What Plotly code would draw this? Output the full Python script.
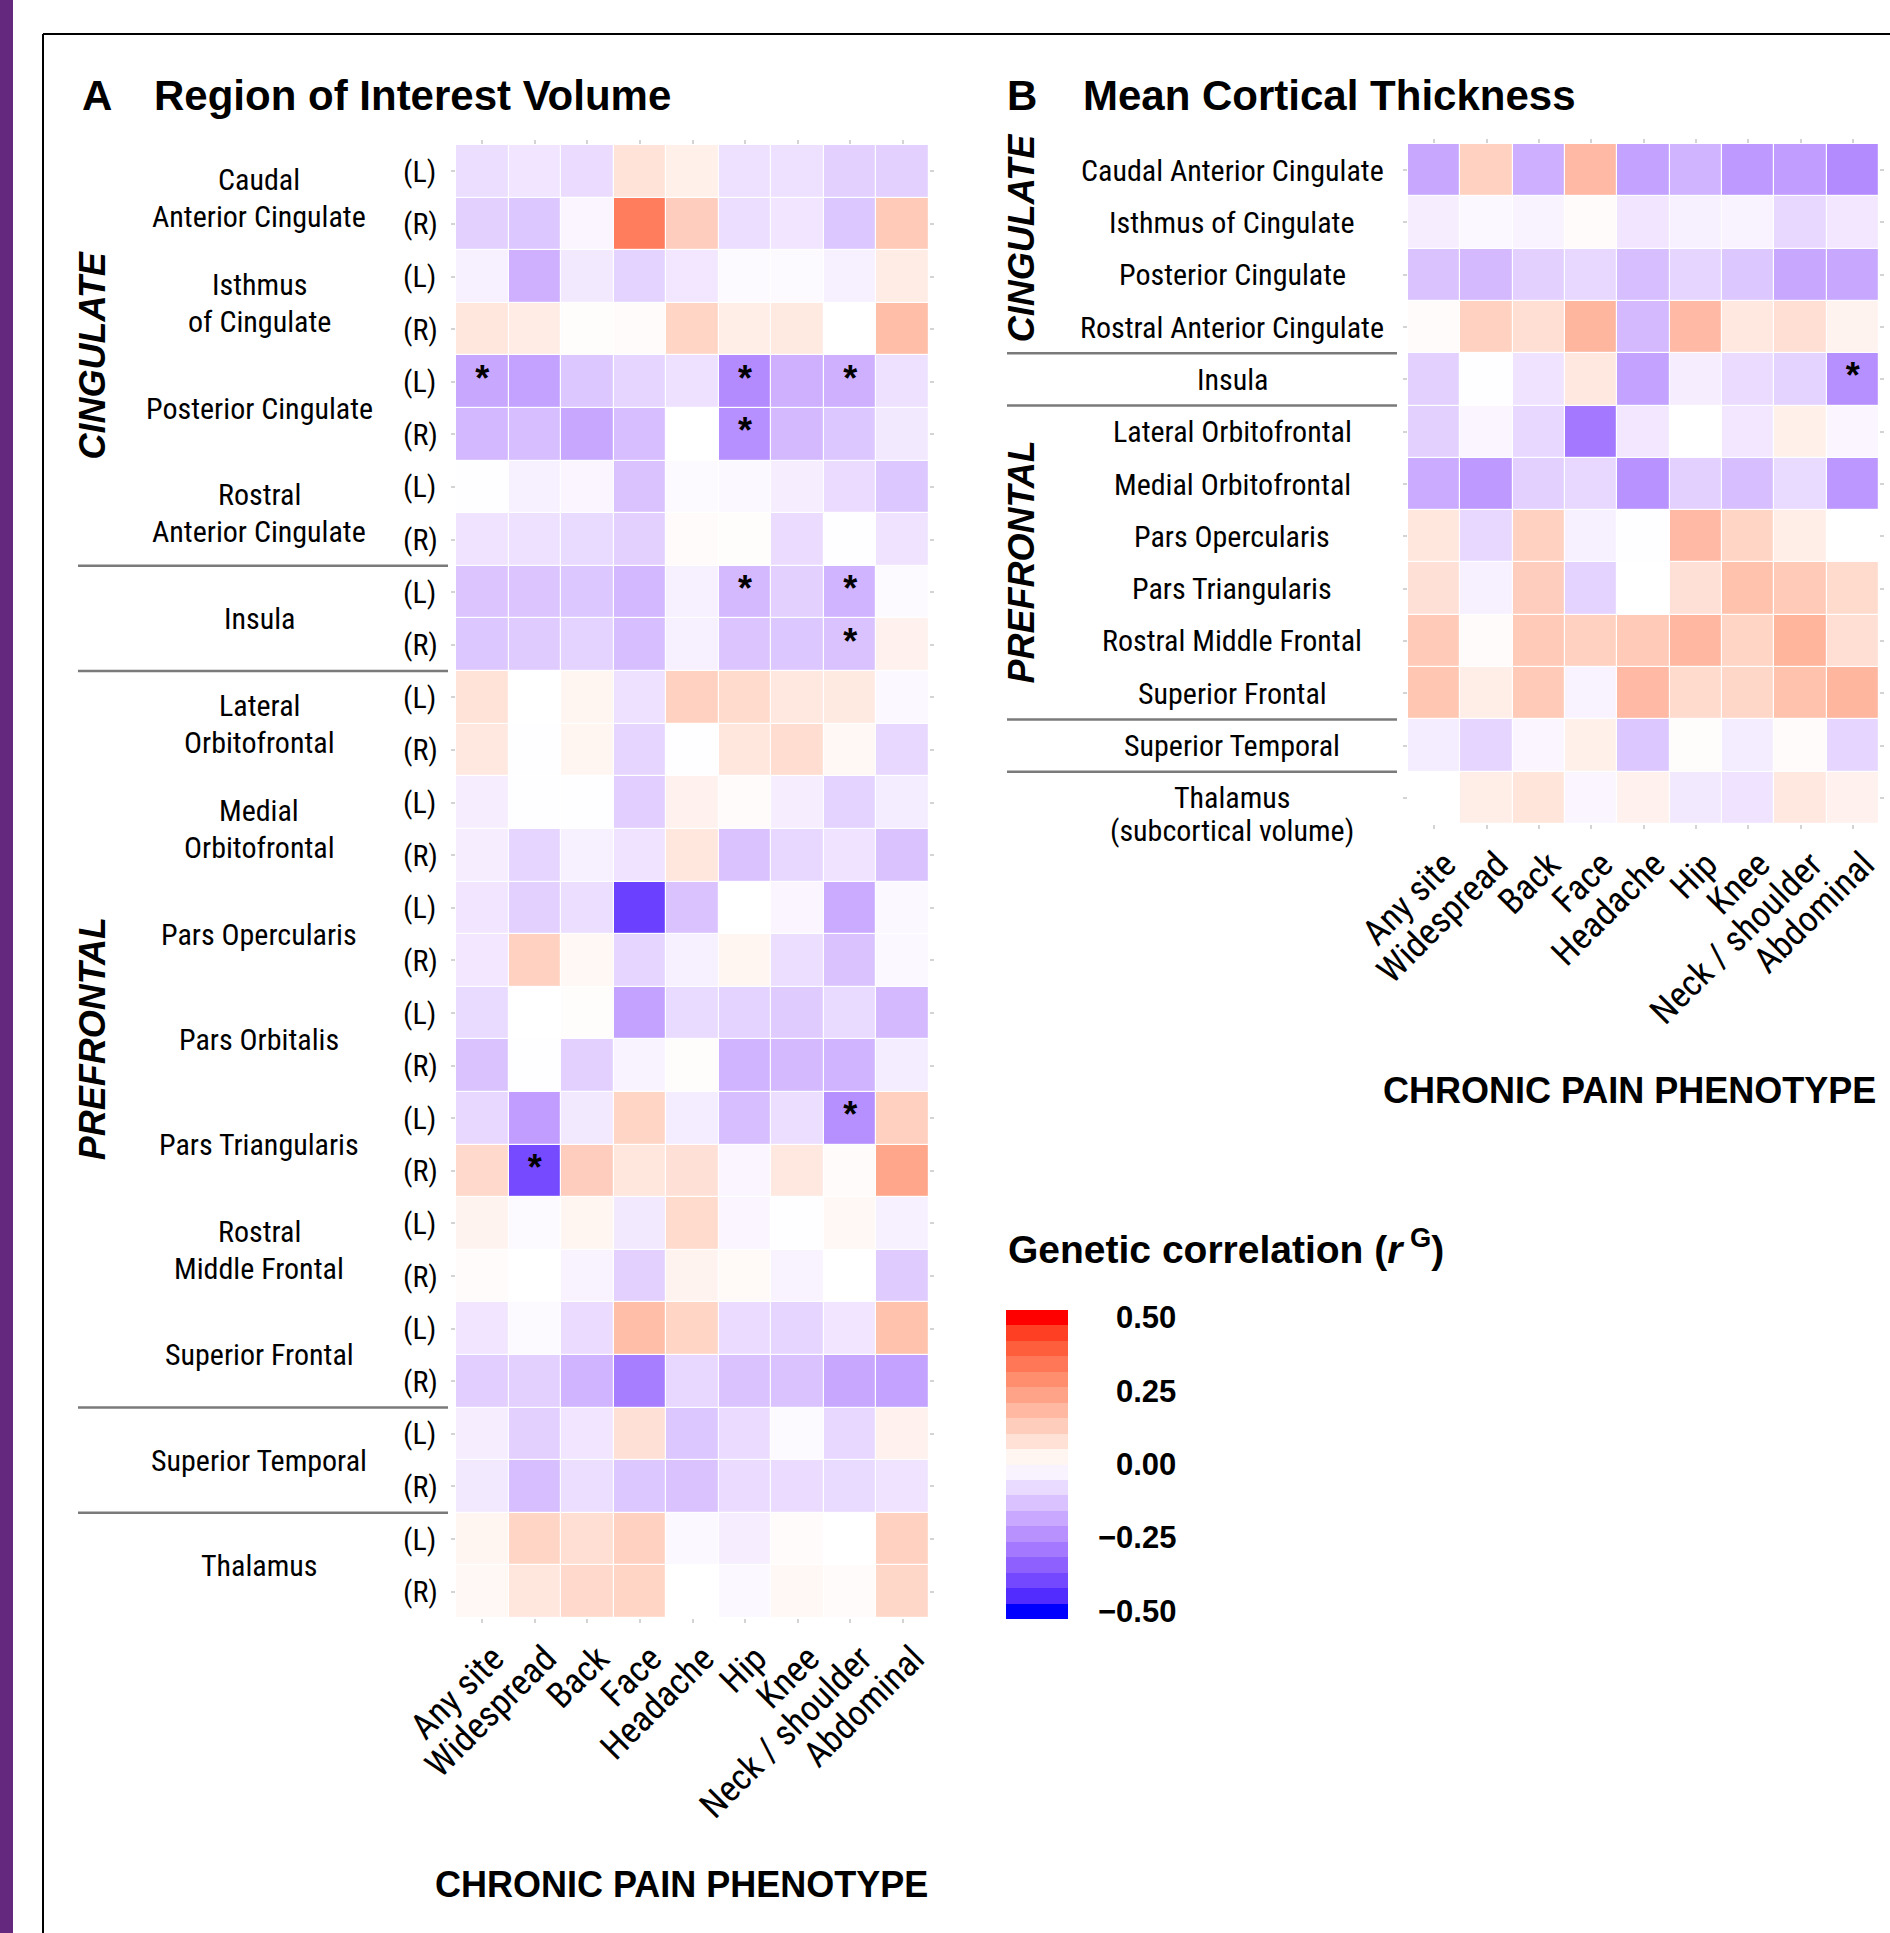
import plotly.graph_objects as go

# ---------------- data ----------------
phenotypes = ["Any site", "Widespread", "Back", "Face", "Headache", "Hip", "Knee",
              "Neck / shoulder", "Abdominal"]

roi_regions = ["Caudal<br>Anterior Cingulate", "Isthmus<br>of Cingulate", "Posterior Cingulate",
               "Rostral<br>Anterior Cingulate", "Insula", "Lateral<br>Orbitofrontal",
               "Medial<br>Orbitofrontal", "Pars Opercularis", "Pars Orbitalis",
               "Pars Triangularis", "Rostral<br>Middle Frontal", "Superior Frontal",
               "Superior Temporal", "Thalamus"]
hemispheres = ["(L)", "(R)"]

# rows: each region (L) then (R); columns follow phenotypes
roi_volume_rg = [
    [-0.07, -0.055, -0.075, 0.075, 0.04, -0.065, -0.065, -0.10, -0.10],
    [-0.10, -0.12, -0.02, 0.33, 0.13, -0.07, -0.055, -0.12, 0.14],
    [-0.03, -0.17, -0.045, -0.095, -0.05, -0.01, -0.01, -0.03, 0.05],
    [0.065, 0.05, 0.005, 0.01, 0.11, 0.045, 0.055, 0.0, 0.17],
    [-0.19, -0.20, -0.12, -0.09, -0.065, -0.25, -0.17, -0.17, -0.065],
    [-0.155, -0.14, -0.19, -0.14, 0.0, -0.24, -0.15, -0.12, -0.045],
    [-0.005, -0.03, -0.02, -0.13, -0.01, -0.015, -0.035, -0.075, -0.12],
    [-0.06, -0.065, -0.08, -0.10, 0.01, 0.005, -0.075, -0.005, -0.06],
    [-0.125, -0.125, -0.12, -0.155, -0.03, -0.15, -0.10, -0.16, -0.01],
    [-0.12, -0.11, -0.095, -0.14, -0.03, -0.125, -0.12, -0.13, 0.035],
    [0.075, 0.0, 0.025, -0.065, 0.12, 0.095, 0.06, 0.055, -0.015],
    [0.06, -0.005, 0.025, -0.09, -0.005, 0.065, 0.09, 0.02, -0.085],
    [-0.035, -0.005, -0.005, -0.105, 0.035, 0.01, -0.035, -0.095, -0.04],
    [-0.035, -0.09, -0.03, -0.06, 0.065, -0.13, -0.085, -0.06, -0.13],
    [-0.055, -0.10, -0.07, -0.41, -0.13, 0.0, -0.02, -0.18, -0.015],
    [-0.05, 0.12, 0.02, -0.09, -0.03, 0.025, -0.07, -0.13, -0.015],
    [-0.08, 0.0, 0.005, -0.20, -0.08, -0.095, -0.11, -0.08, -0.15],
    [-0.13, -0.005, -0.10, -0.025, 0.005, -0.16, -0.15, -0.16, -0.04],
    [-0.085, -0.21, -0.045, 0.11, -0.04, -0.14, -0.07, -0.24, 0.125],
    [0.10, -0.39, 0.13, 0.065, 0.08, -0.02, 0.06, 0.01, 0.23],
    [0.03, -0.01, 0.025, -0.045, 0.095, -0.02, -0.005, 0.02, -0.03],
    [0.01, 0.0, -0.025, -0.10, 0.03, 0.015, -0.025, 0.0, -0.11],
    [-0.055, -0.01, -0.075, 0.17, 0.11, -0.075, -0.09, -0.055, 0.16],
    [-0.105, -0.10, -0.16, -0.28, -0.085, -0.13, -0.13, -0.19, -0.20],
    [-0.035, -0.10, -0.055, 0.08, -0.12, -0.075, -0.01, -0.085, 0.035],
    [-0.045, -0.14, -0.07, -0.12, -0.13, -0.075, -0.075, -0.08, -0.06],
    [0.025, 0.11, 0.085, 0.12, -0.015, -0.035, 0.01, 0.0, 0.12],
    [0.02, 0.065, 0.10, 0.11, 0.0, -0.015, 0.02, 0.01, 0.105],
]
# significant cells (row index, phenotype index)
roi_volume_sig = [(4, 0), (4, 5), (4, 7), (5, 5), (8, 5), (8, 7), (9, 7), (18, 7), (19, 1)]

thick_regions = ["Caudal Anterior Cingulate", "Isthmus of Cingulate", "Posterior Cingulate",
                 "Rostral Anterior Cingulate", "Insula", "Lateral Orbitofrontal",
                 "Medial Orbitofrontal", "Pars Opercularis", "Pars Triangularis",
                 "Rostral Middle Frontal", "Superior Frontal", "Superior Temporal",
                 "Thalamus<br>(subcortical volume)"]
thickness_rg = [
    [-0.19, 0.12, -0.175, 0.18, -0.20, -0.16, -0.22, -0.21, -0.25],
    [-0.035, -0.015, -0.025, 0.01, -0.055, -0.03, -0.025, -0.085, -0.05],
    [-0.13, -0.15, -0.10, -0.085, -0.14, -0.09, -0.12, -0.19, -0.19],
    [0.01, 0.12, 0.085, 0.19, -0.15, 0.18, 0.06, 0.085, 0.03],
    [-0.10, -0.005, -0.06, 0.06, -0.20, -0.035, -0.075, -0.095, -0.24],
    [-0.10, -0.02, -0.085, -0.29, -0.05, 0.0, -0.05, 0.04, -0.02],
    [-0.18, -0.22, -0.10, -0.085, -0.235, -0.10, -0.14, -0.08, -0.225],
    [0.065, -0.085, 0.12, -0.03, -0.005, 0.18, 0.11, 0.045, 0.0],
    [0.08, -0.03, 0.13, -0.095, 0.0, 0.08, 0.16, 0.14, 0.095],
    [0.14, 0.01, 0.14, 0.12, 0.14, 0.185, 0.11, 0.195, 0.085],
    [0.15, 0.045, 0.14, -0.025, 0.18, 0.095, 0.105, 0.16, 0.19],
    [-0.04, -0.09, -0.02, 0.04, -0.12, 0.005, -0.04, 0.01, -0.09],
    [0.0, 0.045, 0.07, -0.02, 0.035, -0.045, -0.06, 0.06, 0.035],
]
thickness_sig = [(4, 8)]

legend_ticks = [0.5, 0.25, 0.0, -0.25, -0.5]
legend_ticktext = ["0.50", "0.25", "0.00", "\u22120.25", "\u22120.50"]

# ---------------- colour scale (Lab interpolation blue-white-red) ----------------
def _lin(c):
    c = c / 255.0
    return c / 12.92 if c <= 0.04045 else ((c + 0.055) / 1.055) ** 2.4

def _f(t):
    d = 6 / 29
    return t ** (1 / 3) if t > d ** 3 else t / (3 * d * d) + 4 / 29

def _finv(t):
    d = 6 / 29
    return t ** 3 if t > d else 3 * d * d * (t - 4 / 29)

WN = (0.95047, 1.0, 1.08883)

def rgb2lab(rgb):
    r, g, b = [_lin(c) for c in rgb]
    X = 0.4124564 * r + 0.3575761 * g + 0.1804375 * b
    Y = 0.2126729 * r + 0.7151522 * g + 0.0721750 * b
    Z = 0.0193339 * r + 0.1191920 * g + 0.9503041 * b
    fx, fy, fz = _f(X / WN[0]), _f(Y / WN[1]), _f(Z / WN[2])
    return (116 * fy - 16, 500 * (fx - fy), 200 * (fy - fz))

def lab2hex(lab):
    L, a, b = lab
    fy = (L + 16) / 116
    fx = fy + a / 500
    fz = fy - b / 200
    X, Y, Z = WN[0] * _finv(fx), WN[1] * _finv(fy), WN[2] * _finv(fz)
    r = 3.2404542 * X - 1.5371385 * Y - 0.4985314 * Z
    g = -0.9692660 * X + 1.8760108 * Y + 0.0415560 * Z
    bb = 0.0556434 * X - 0.2040259 * Y + 1.0572252 * Z
    out = []
    for c in (r, g, bb):
        c = min(max(c, 0.0), 1.0)
        c = 12.92 * c if c <= 0.0031308 else 1.055 * c ** (1 / 2.4) - 0.055
        out.append(int(round(c * 255)))
    return "#%02X%02X%02X" % tuple(out)

LOW, MID, HIGH = rgb2lab((0, 0, 255)), rgb2lab((255, 255, 255)), rgb2lab((255, 0, 0))
VMIN, VMAX = -0.5, 0.5

def col(v):
    v = max(VMIN, min(VMAX, v))
    if v < 0:
        t = v / VMIN
        lab = [MID[i] + (LOW[i] - MID[i]) * t for i in range(3)]
    else:
        t = v / VMAX
        lab = [MID[i] + (HIGH[i] - MID[i]) * t for i in range(3)]
    return lab2hex(lab)

NSTOP = 60
heat_scale = [[k / NSTOP, col(VMIN + (VMAX - VMIN) * k / NSTOP)] for k in range(NSTOP + 1)]

NBIN = 20
half = (VMAX - VMIN) / (NBIN - 1) / 2
CB_MIN, CB_MAX = VMIN - half, VMAX + half
step_scale = []
for k in range(NBIN):
    c = col(VMIN + k * (VMAX - VMIN) / (NBIN - 1))
    step_scale.append([k / NBIN, c])
    step_scale.append([(k + 1) / NBIN, c])

# ---------------- geometry ----------------
W, H = 1890, 1933
def px(x): return x / W
def py(y): return 1 - y / H

NARROW = "Liberation Sans Narrow, Arial Narrow, Roboto Condensed, Roboto"
SANS = "Liberation Sans, Arial, Helvetica"

fig = go.Figure()

nA = len(roi_volume_rg)
nB = len(thickness_rg)

fig.add_trace(go.Heatmap(z=roi_volume_rg, x=list(range(len(phenotypes))), y=list(range(nA)),
                         colorscale=heat_scale, zmin=VMIN, zmax=VMAX, showscale=False,
                         xgap=1.2, ygap=1.2, xaxis="x", yaxis="y"))
fig.add_trace(go.Heatmap(z=thickness_rg, x=list(range(len(phenotypes))), y=list(range(nB)),
                         colorscale=heat_scale, zmin=VMIN, zmax=VMAX, showscale=False,
                         xgap=1.2, ygap=1.2, xaxis="x2", yaxis="y2"))

star_font = dict(size=36, family=SANS, color="black", weight="bold")
fig.add_trace(go.Scatter(x=[c for r, c in roi_volume_sig], y=[r for r, c in roi_volume_sig],
                         mode="text", text=["*"] * len(roi_volume_sig), textfont=star_font,
                         xaxis="x", yaxis="y", showlegend=False, hoverinfo="skip"))
fig.add_trace(go.Scatter(x=[c for r, c in thickness_sig], y=[r for r, c in thickness_sig],
                         mode="text", text=["*"] * len(thickness_sig), textfont=star_font,
                         xaxis="x2", yaxis="y2", showlegend=False, hoverinfo="skip"))

# colour bar (legend)
CB_TOP, CB_BOT = 1310, 1619
CB_LEFT = 1006
fig.add_trace(go.Scatter(x=[None], y=[None], mode="markers", showlegend=False,
                         xaxis="x", yaxis="y",
                         marker=dict(color=[0], cmin=CB_MIN, cmax=CB_MAX, colorscale=step_scale,
                                     showscale=True,
                                     colorbar=dict(x=px(CB_LEFT), xanchor="left",
                                                   y=py((CB_TOP + CB_BOT) / 2), yanchor="middle",
                                                   len=CB_BOT - CB_TOP, lenmode="pixels",
                                                   thickness=62, thicknessmode="pixels",
                                                   xpad=0, ypad=0, outlinewidth=0,
                                                   showticklabels=False, ticks=""))))

tick_common = dict(ticks="outside", ticklen=4, tickcolor="#d4d4d4", tickwidth=1.5,
                   mirror="ticks", showgrid=False, zeroline=False, showline=False,
                   automargin=False)
xfont = dict(size=36, family=NARROW, color="black")

fig.update_layout(
    width=W, height=H, margin=dict(l=0, r=0, t=0, b=0, autoexpand=False),
    paper_bgcolor="white", plot_bgcolor="white", showlegend=False,
    xaxis=dict(domain=[px(456), px(929)], range=[-0.5, 8.5], tickvals=list(range(9)),
               ticktext=phenotypes, tickangle=-45, tickfont=xfont, anchor="y",
               ticklabelstandoff=0, ticklabelshift=11, **tick_common),
    yaxis=dict(domain=[py(1618), py(145)], range=[nA - 0.5, -0.5], tickvals=list(range(nA)),
               showticklabels=False, anchor="x", **tick_common),
    xaxis2=dict(domain=[px(1408), px(1879)], range=[-0.5, 8.5], tickvals=list(range(9)),
                ticktext=phenotypes, tickangle=-45, tickfont=xfont, anchor="y2",
                ticklabelstandoff=0, ticklabelshift=11, **tick_common),
    yaxis2=dict(domain=[py(824), py(144)], range=[nB - 0.5, -0.5], tickvals=list(range(nB)),
                showticklabels=False, anchor="x2", **tick_common),
)

shapes = []
# purple side bar and frame
shapes.append(dict(type="rect", xref="paper", yref="paper", x0=px(-20), x1=px(13), y0=-0.02, y1=1.02,
                   fillcolor="#64287F", line=dict(width=0), layer="below"))
shapes.append(dict(type="line", xref="paper", yref="paper", x0=px(43), x1=1.01, y0=py(34), y1=py(34),
                   line=dict(color="black", width=2)))
shapes.append(dict(type="line", xref="paper", yref="paper", x0=px(43), x1=px(43), y0=py(34), y1=-0.01,
                   line=dict(color="black", width=2)))
# group separators
for yv in [7.5, 9.5, 23.5, 25.5]:
    shapes.append(dict(type="line", xref="paper", yref="y", x0=px(78), x1=px(448), y0=yv, y1=yv,
                       line=dict(color="#7a7a7a", width=2.5)))
for yv in [3.5, 4.5, 10.5, 11.5]:
    shapes.append(dict(type="line", xref="paper", yref="y2", x0=px(1007), x1=px(1397), y0=yv, y1=yv,
                       line=dict(color="#7a7a7a", width=2.5)))
fig.update_layout(shapes=shapes)

ann = []
lab_font = dict(size=30, family=NARROW, color="black")
# panel A row labels
for i, name in enumerate(roi_regions):
    lines = name.split("<br>")
    yc = 2 * i + 0.5
    if len(lines) == 1:
        ann.append(dict(x=px(259), xref="paper", y=yc, yref="y", text=lines[0], showarrow=False,
                        font=lab_font, xanchor="center", yanchor="middle"))
    else:
        for j, ln in enumerate(lines):
            ann.append(dict(x=px(259), xref="paper", y=yc, yref="y", text=ln, showarrow=False,
                            font=lab_font, xanchor="center", yanchor="middle",
                            yshift=18.5 if j == 0 else -18.5))
    for h, hem in enumerate(hemispheres):
        ann.append(dict(x=px(401), xref="paper", y=2 * i + h, yref="y", text=hem, showarrow=False,
                        font=lab_font, xanchor="left", yanchor="middle"))
# panel B row labels
for i, name in enumerate(thick_regions):
    lines = name.split("<br>")
    for j, ln in enumerate(lines):
        ann.append(dict(x=px(1232), xref="paper", y=i, yref="y2", text=ln, showarrow=False,
                        font=lab_font, xanchor="center", yanchor="middle", yshift=-33 * j))

grp_font = dict(size=36, family=SANS, color="black", weight="bold", style="italic")
for txt, xx, yy, yr in [("CINGULATE", 92, 3.5, "y"), ("PREFRONTAL", 92, 16.5, "y"),
                        ("CINGULATE", 1021, 1.3, "y2"), ("PREFRONTAL", 1021, 7.5, "y2")]:
    ann.append(dict(x=px(xx), xref="paper", y=yy, yref=yr, text=txt, textangle=-90,
                    showarrow=False, font=grp_font, xanchor="center", yanchor="middle"))

title_font = dict(size=42, family=SANS, color="black", weight="bold")
for txt, xx in [("A", 80), ("Region of Interest Volume", 152), ("B", 1005),
                ("Mean Cortical Thickness", 1081)]:
    ann.append(dict(x=px(xx), xref="paper", y=py(95), yref="paper", text=txt, showarrow=False,
                    font=title_font, xanchor="left", yanchor="middle"))

axt_font = dict(size=36, family=SANS, color="black", weight="bold")
ann.append(dict(x=px(681), xref="paper", y=py(1884), yref="paper", text="CHRONIC PAIN PHENOTYPE",
                showarrow=False, font=axt_font, xanchor="center", yanchor="middle"))
ann.append(dict(x=px(1629), xref="paper", y=py(1090), yref="paper", text="CHRONIC PAIN PHENOTYPE",
                showarrow=False, font=axt_font, xanchor="center", yanchor="middle"))

ann.append(dict(x=px(1006), xref="paper", y=py(1246), yref="paper",
                text="Genetic correlation (<i>r</i><sup> G</sup>)", showarrow=False,
                font=dict(size=39, family=SANS, color="black", weight="bold"),
                xanchor="left", yanchor="middle"))

cb_font = dict(size=31, family=SANS, color="black", weight="bold")
for v, t in zip(legend_ticks, legend_ticktext):
    ypix = CB_BOT - (v - CB_MIN) / (CB_MAX - CB_MIN) * (CB_BOT - CB_TOP)
    ann.append(dict(x=px(1178), xref="paper", y=py(ypix), yref="paper", text=t, showarrow=False,
                    font=cb_font, xanchor="right", yanchor="middle"))

fig.update_layout(annotations=ann)
fig.write_html("out.html", config={"displayModeBar": False},
               post_script="document.body.style.margin='0px';")
